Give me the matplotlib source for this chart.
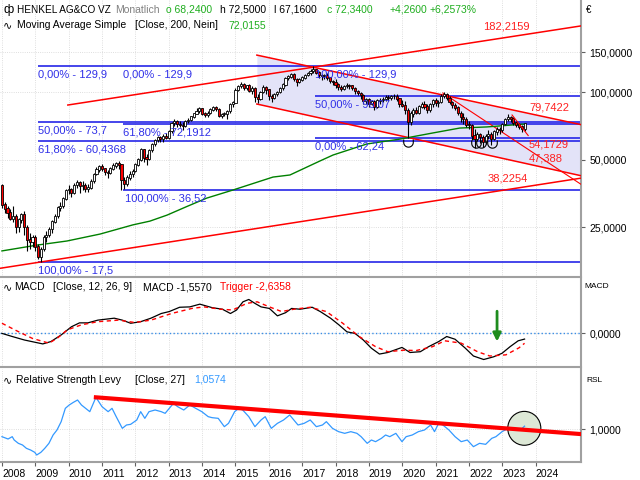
import numpy as np
import matplotlib
matplotlib.use('Agg')
import matplotlib.pyplot as plt
from matplotlib.patches import Ellipse
from matplotlib.path import Path

plt.rcParams['font.family'] = ['Liberation Sans', 'DejaVu Sans']

# monthly candles, Jan 2008 (index 0) .. Sep 2023 (index 188)
opens = [
    38.5, 31.5, 30.2, 29.0, 27.2, 28.0, 25.0, 27.0, 28.5, 25.0, 22.0, 21.5,        # 2008
    22.5, 20.5, 18.5, 20.0, 22.5, 23.0, 24.5, 26.5, 28.0, 30.5, 31.0, 33.5,        # 2009
    36.5, 37.0, 35.5, 38.5, 39.5, 38.0, 38.5, 37.0, 37.5, 40.0, 43.0, 45.0,        # 2010
    46.5, 45.5, 44.0, 43.5, 45.5, 47.0, 48.0, 47.5, 40.5, 39.0, 41.5, 43.0,        # 2011
    44.5, 47.5, 50.0, 55.5, 51.0, 50.5, 55.0, 58.5, 61.0, 62.5, 61.5, 63.5,        # 2012
    62.5, 67.0, 72.5, 74.0, 72.0, 71.0, 70.5, 74.0, 75.0, 77.5, 80.0, 82.0,        # 2013
    84.5, 80.0, 79.0, 80.5, 83.5, 85.5, 84.0, 78.5, 79.5, 80.0, 82.0, 88.0,        # 2014
    89.5, 102.0, 106.0, 108.0, 104.0, 106.5, 101.0, 103.5, 95.0, 93.0, 100.0, 104.5,  # 2015
    102.5, 96.0, 94.5, 97.5, 99.5, 104.0, 108.0, 115.0, 117.0, 120.0, 114.0, 111.0,   # 2016
    113.5, 116.0, 119.0, 121.0, 124.0, 125.5, 122.0, 118.5, 117.5, 118.0, 116.0, 112.0,  # 2017
    110.5, 108.0, 105.0, 103.0, 106.0, 107.0, 106.5, 104.0, 101.0, 99.0, 96.5, 91.0,   # 2018
    93.0, 88.5, 91.0, 86.0, 91.5, 92.0, 93.0, 95.0, 94.5, 95.5, 96.0, 93.5,        # 2019
    88.0, 87.0, 83.0, 73.5, 80.0, 83.0, 81.0, 86.0, 88.0, 86.0, 83.0, 88.0,        # 2020
    92.0, 89.0, 90.0, 96.0, 98.0, 94.0, 90.0, 87.5, 85.0, 80.5, 77.0, 75.5,        # 2021
    71.5, 71.0, 64.0, 62.0, 64.5, 63.0, 60.0, 63.5, 65.0, 62.0, 66.5, 68.0,        # 2022
    67.5, 72.0, 75.5, 77.0, 76.0, 73.0, 71.5, 70.0, 68.24,                         # 2023
]
highs = [
    39.0, 32.5, 31.0, 30.0, 31.0, 28.5, 27.5, 29.0, 29.5, 25.5, 23.5, 23.0,
    23.0, 21.0, 20.5, 23.0, 24.0, 25.0, 27.0, 28.5, 31.0, 32.5, 34.0, 37.0,
    38.5, 37.5, 39.5, 40.5, 40.0, 40.0, 39.5, 39.0, 41.0, 43.5, 46.5, 47.5,
    48.0, 46.0, 45.0, 46.5, 48.5, 49.0, 49.5, 48.0, 42.0, 42.5, 44.5, 45.5,
    48.5, 51.0, 56.5, 56.0, 53.0, 55.5, 59.5, 62.0, 64.0, 64.0, 65.0, 65.5,
    68.0, 73.5, 75.5, 75.0, 74.0, 73.5, 75.0, 76.5, 78.5, 81.0, 84.5, 85.5,
    85.0, 81.5, 82.0, 85.0, 86.5, 86.5, 85.0, 81.0, 81.5, 83.0, 89.0, 91.0,
    104.0, 107.5, 111.0, 110.0, 108.0, 108.5, 106.0, 105.0, 98.0, 101.5, 107.0, 106.0,
    103.0, 97.5, 98.5, 101.0, 105.5, 110.0, 116.5, 119.5, 121.5, 121.0, 115.5, 115.0,
    117.5, 120.5, 123.0, 126.5, 129.9, 127.0, 123.5, 120.0, 120.5, 121.0, 117.0, 113.5,
    114.0, 109.5, 107.5, 107.5, 109.5, 109.0, 108.0, 105.5, 102.5, 100.5, 98.0, 94.5,
    94.0, 92.5, 92.0, 93.0, 94.5, 95.0, 96.5, 97.0, 97.0, 98.0, 97.5, 94.5,
    92.0, 91.0, 84.5, 82.0, 84.5, 86.0, 87.5, 90.5, 91.5, 88.5, 89.5, 93.5,
    94.0, 92.5, 97.5, 99.5, 99.0, 95.5, 91.0, 89.5, 86.5, 82.5, 80.5, 77.5,
    74.0, 72.0, 68.5, 66.5, 66.0, 64.5, 65.0, 67.5, 66.5, 68.0, 69.5, 70.0,
    73.0, 76.5, 79.5, 78.5, 77.0, 74.5, 73.0, 71.5, 72.5,
]
lows = [
    30.5, 28.8, 27.5, 26.8, 26.5, 23.5, 23.8, 26.0, 23.0, 19.5, 20.0, 20.5,
    19.5, 18.0, 17.5, 19.5, 21.5, 22.5, 23.5, 26.0, 27.5, 29.5, 30.5, 33.0,
    35.0, 34.0, 35.0, 37.5, 35.5, 36.5, 36.0, 36.0, 37.0, 39.5, 42.5, 44.0,
    44.5, 42.5, 41.5, 43.0, 45.0, 46.0, 45.5, 36.52, 37.0, 38.0, 40.5, 42.0,
    44.0, 47.0, 49.5, 49.0, 47.5, 50.0, 54.0, 57.5, 60.0, 60.0, 60.0, 61.5,
    62.0, 66.0, 70.5, 70.0, 69.5, 68.0, 70.0, 72.5, 74.0, 76.5, 79.5, 80.5,
    79.0, 77.0, 77.5, 79.5, 82.5, 82.0, 77.0, 76.5, 78.0, 75.5, 81.0, 86.0,
    89.0, 101.0, 104.0, 102.5, 102.0, 99.5, 98.0, 90.0, 89.5, 92.0, 99.0, 98.0,
    92.5, 90.5, 93.5, 95.5, 98.5, 102.0, 106.5, 113.5, 115.0, 112.0, 106.5, 109.5,
    111.5, 114.5, 117.5, 119.5, 122.0, 120.0, 116.0, 113.5, 114.5, 113.0, 109.5, 107.5,
    104.5, 102.5, 101.0, 102.0, 104.0, 103.5, 102.5, 98.0, 96.5, 93.0, 88.5, 88.0,
    86.0, 87.5, 83.5, 85.0, 88.5, 90.0, 91.0, 91.5, 92.5, 93.5, 91.0, 86.0,
    85.5, 80.0, 62.24, 71.5, 77.0, 79.5, 80.0, 84.5, 84.0, 80.5, 81.5, 86.0,
    86.5, 86.0, 89.0, 94.5, 92.5, 88.0, 85.0, 83.0, 79.0, 73.5, 72.0, 70.0,
    68.5, 61.0, 56.5, 60.5, 59.0, 57.0, 58.5, 61.5, 58.0, 61.0, 64.5, 65.0,
    66.5, 71.0, 74.0, 73.5, 71.5, 69.5, 68.5, 66.5, 67.16,
]
closes = [
    31.5, 30.2, 29.0, 27.2, 28.0, 25.0, 27.0, 28.5, 25.0, 22.0, 21.5, 22.5,
    20.5, 18.5, 20.0, 22.5, 23.0, 24.5, 26.5, 28.0, 30.5, 31.0, 33.5, 36.5,
    37.0, 35.5, 38.5, 39.5, 38.0, 38.5, 37.0, 37.5, 40.0, 43.0, 45.0, 46.5,
    45.5, 44.0, 43.5, 45.5, 47.0, 48.0, 47.5, 40.5, 39.0, 41.5, 43.0, 44.5,
    47.5, 50.0, 55.5, 51.0, 50.5, 55.0, 58.5, 61.0, 62.5, 61.5, 63.5, 62.5,
    67.0, 72.5, 74.0, 72.0, 71.0, 70.5, 74.0, 75.0, 77.5, 80.0, 82.0, 84.5,
    80.0, 79.0, 80.5, 83.5, 85.5, 84.0, 78.5, 79.5, 80.0, 82.0, 88.0, 89.5,
    102.0, 106.0, 108.0, 104.0, 106.5, 101.0, 103.5, 95.0, 93.0, 100.0, 104.5, 102.5,
    96.0, 94.5, 97.5, 99.5, 104.0, 108.0, 115.0, 117.0, 120.0, 114.0, 111.0, 113.5,
    116.0, 119.0, 121.0, 124.0, 125.5, 122.0, 118.5, 117.5, 118.0, 116.0, 112.0, 110.5,
    108.0, 105.0, 103.0, 106.0, 107.0, 106.5, 104.0, 101.0, 99.0, 96.5, 91.0, 93.0,
    88.5, 91.0, 86.0, 91.5, 92.0, 93.0, 95.0, 94.5, 95.5, 96.0, 93.5, 88.0,
    87.0, 83.0, 73.5, 80.0, 83.0, 81.0, 86.0, 88.0, 86.0, 83.0, 88.0, 92.0,
    89.0, 90.0, 96.0, 98.0, 94.0, 90.0, 87.5, 85.0, 80.5, 77.0, 75.5, 71.5,
    71.0, 64.0, 62.0, 64.5, 63.0, 60.0, 63.5, 65.0, 62.0, 66.5, 68.0, 67.5,
    72.0, 75.5, 77.0, 76.0, 73.0, 71.5, 70.0, 68.24, 72.34,
]

years = list(range(2008, 2025))

# moving average (200)
ma_idx = [0, 12.6, 23.4, 35.3, 47.1, 53.2, 59.4, 66.5, 73.7, 83.1, 97.5, 103.6,
          114.4, 119.1, 131.3, 143.2, 155, 164.7, 174.5, 188]
ma_val = [19.6, 20.8, 21.7, 23.3, 25.6, 26.6, 28.3, 30.9, 33.7, 36.6, 41.8, 42.7,
          49.3, 52.4, 58.7, 61.7, 65.7, 69.1, 69.9, 72.0155]

# fibonacci levels: (start index, price) and labels
fib_lines = [(13.0, 129.9), (13.0, 73.7), (13.0, 60.4368), (13.0, 17.5),
             (43.5, 72.1912), (43.5, 36.52), (112.6, 96.07), (112.6, 62.24)]
fib_labels = [(13.0, 129.9, '0,00% - 129,9'), (43.5, 129.9, '0,00% - 129,9'),
              (112.6, 129.9, '100,00% - 129,9'), (13.0, 73.7, '50,00% - 73,7'),
              (43.5, 72.1912, '61,80% - 72,1912'), (13.0, 60.4368, '61,80% - 60,4368'),
              (44.2, 36.52, '100,00% - 36,52'), (13.0, 17.5, '100,00% - 17,5'),
              (112.6, 96.07, '50,00% - 96,07'), (112.6, 62.24, '0,00% - 62,24')]

# trend lines, two anchors each (index, price)
up_long = ((23.7, 87.5), (190.6, 182.2159))
low_long = ((14.0, 17.5), (190.6, 38.2254))
down_top = ((91.7, 146.0), (190.6, 79.7422))
down_bot = ((91.7, 88.4), (190.6, 47.388))
steep = ((158.6, 99.0), (190.6, 54.1729))
short_line = ((183.5, 79.0), (189.3, 64.0))
red_labels = [(173.0, 194.8, '182,2159'), (189.6, 85.7, '79,7422'),
              (189.6, 58.1, '54,1729'), (189.6, 50.8, '47,388'),
              (174.8, 41.4, '38,2254')]
bottoms_idx = [145.9, 170.5, 172.3, 176.3]
bottoms_val = [61.7, 61.0, 61.0, 61.0]

# MACD
macd_idx = [0, 3.7, 8.1, 14.7, 17.6, 21.3, 25, 27.9, 30.9, 34.5, 40.4, 43.3, 46.3, 49.9,
            53.6, 57.3, 60.2, 63.9, 67.6, 71.2, 75.6, 79.3, 82.2, 84.4, 86.7, 88.8, 91,
            93.2, 96.2, 99.1, 102, 104.2, 107.2, 111.6, 114.5, 118.2, 121.2, 124.1, 127,
            130, 132.9, 135.8, 138.8, 143.9, 146.8, 150.5, 153.5, 157.1, 160, 163, 166.7,
            169.6, 173.3, 176.9, 179.9, 182.8, 185.7, 188]
macd_val = [-0.1, -0.9, -1.8, -2.8, -2.2, -0.5, 1.6, 2.6, 2.6, 3.3, 3.8, 3.3, 2.5, 2.9,
            3.8, 5.0, 5.5, 6.6, 6.7, 7.4, 6.5, 6.1, 5.0, 5.9, 8.0, 8.6, 7.6,
            6.7, 6.3, 4.4, 5.2, 6.3, 6.1, 6.6, 5.5, 3.8, 2.1, 0.3, -0.1,
            -1.8, -3.9, -5.4, -5.0, -3.7, -5.0, -4.8, -3.5, -2.2, -0.9, -1.6, -3.9,
            -5.9, -6.8, -6.1, -5.2, -3.5, -2.0, -1.557]
trig_idx = [0, 5.2, 11, 16.9, 19.8, 23.5, 28.6, 34.5, 41.9, 47.7, 53.6, 61, 68.3, 72.7,
            78.6, 83, 88.1, 91.8, 96.2, 100.6, 105, 110.9, 116.7, 122.6, 128.5, 134.4,
            138.8, 144.6, 149, 154.9, 159.3, 165.2, 171.1, 175.5, 181.3, 186, 188]
trig_val = [2.5, 0.6, -1.4, -2.6, -1.4, 0.8, 2.1, 2.9, 3.3, 2.7, 3.3, 5.0, 6.3, 6.7,
            6.1, 5.9, 7.6, 8.0, 6.7, 5.5, 6.1, 6.6, 5.5, 2.5, -0.9, -3.5,
            -4.8, -4.4, -4.5, -3.5, -2.0, -2.6, -4.8, -5.9, -5.6, -3.8, -2.636]

# Relative Strength Levy
rsl_idx = [0, 2.2, 3.7, 4.4, 5.9, 7.4, 8.8, 10.3, 11.8, 12.5, 14.0, 15.4, 16.9, 18.4,
           19.8, 21.3, 22.8, 24.2, 25.7, 27.2, 28.6, 30.1, 31.6, 33.8, 36.0, 38.2, 39.6,
           41.1, 43.3, 44.8, 46.3, 48.5, 49.9, 51.4, 52.9, 55.1, 57.3, 58.7, 60.2, 61.7,
           63.2, 65.4, 67.6, 69.7, 71.9, 74.2, 75.6, 77.8, 80.0, 81.5, 83.7, 85.2, 86.6,
           88.8, 91.0, 93.2, 94.7, 96.9, 99.1, 101.3, 103.5, 105.0, 106.5, 108.7, 110.9,
           113.1, 115.3, 116.7, 118.9, 121.1, 123.3, 125.5, 127.7, 129.2, 131.4, 132.9,
           134.4, 136.5, 138.0, 139.5, 141.7, 143.9, 145.4, 147.6, 149.8, 152.0, 154.2,
           155.6, 157.1, 158.6, 160.8, 163.0, 165.2, 167.4, 169.6, 171.8, 174.0, 176.2,
           177.7, 179.9, 182.1, 184.3, 186.5, 188]
rsl_val = [0.868, 0.826, 0.868, 0.808, 0.748, 0.718, 0.658, 0.628, 0.586, 0.538, 0.586,
           0.658, 0.748, 0.898, 0.988, 1.138, 1.378, 1.438, 1.486, 1.528, 1.438, 1.378,
           1.318, 1.576, 1.408, 1.318, 1.378, 1.228, 1.018, 1.078, 1.09, 1.168, 1.318,
           1.198, 1.318, 1.348, 1.318, 1.288, 1.378, 1.468, 1.408, 1.348, 1.438, 1.378,
           1.318, 1.228, 1.21, 1.198, 1.048, 1.108, 1.318, 1.378, 1.348, 1.228, 1.048,
           1.168, 1.228, 1.018, 1.108, 1.168, 1.258, 1.168, 1.078, 1.108, 1.168, 1.048,
           1.078, 1.138, 1.018, 0.958, 0.928, 0.958, 0.928, 0.868, 0.748, 0.808, 0.778,
           0.838, 0.898, 0.868, 0.928, 0.778, 0.868, 0.898, 0.958, 0.988, 1.078, 0.958,
           1.108, 1.078, 0.988, 0.868, 0.778, 0.808, 0.688, 0.748, 0.73, 0.838, 0.868,
           0.958, 1.018, 1.018, 0.988, 1.0574]
rsl_trend = ((33.8, 1.576), (207.9, 0.916))

X0, X1 = -0.7, 208.3
BLUE = '#1414e6'
FIBTXT = '#3030e8'
GREEN = '#1fae1f'
GRID = '#d4d4d4'
SPINE = '#a0a0a0'


def extend(line, x):
    (xa, ya), (xb, yb) = line
    k = np.log(yb / ya) / (xb - xa)
    return ya * np.exp(k * (x - xa))


def style(ax):
    for s in ax.spines.values():
        s.set_color(SPINE)
        s.set_linewidth(1.5)
    ax.spines['left'].set_visible(False)
    ax.spines['top'].set_visible(False)
    ax.yaxis.tick_right()
    ax.set_xlim(X0, X1)
    ax.set_xticks([12 * (y - 2008) for y in years])
    ax.tick_params(axis='y', direction='out', length=3, pad=3, colors='#606060',
                   labelcolor='black', labelsize=7.5)
    ax.tick_params(axis='x', length=0, labelbottom=False)
    ax.grid(True, color=GRID, ls=':', lw=0.6)
    ax.set_axisbelow(True)


fig = plt.figure(figsize=(6.4, 4.8), dpi=100)
ax = fig.add_axes([0, 1 - 277 / 480, 581 / 640, 277 / 480])
ax_m = fig.add_axes([0, 1 - 367 / 480, 581 / 640, 88 / 480])
ax_r = fig.add_axes([0, 1 - 462 / 480, 581 / 640, 93 / 480])

# ---- price panel
ax.set_yscale('log')
style(ax)
ax.set_ylim(15.0, 256.9)
ax.yaxis.set_minor_locator(matplotlib.ticker.NullLocator())
ax.set_yticks([25, 50, 100, 150])
ax.set_yticklabels(['25,0000', '50,0000', '100,0000', '150,0000'])

# shaded down channel
xs = np.array([down_top[0][0], X1])
ax.fill_between(xs, extend(down_top, xs), extend(down_bot, xs), color='#e3e3f8', lw=0, zorder=1)

for x0, lvl in fib_lines:
    ax.hlines(lvl, x0, X1, color=BLUE, lw=1.1, zorder=2)
for x0, lvl, txt in fib_labels:
    ax.annotate(txt, xy=(x0, lvl), xytext=(0, -2.5), textcoords='offset points',
                ha='left', va='top', fontsize=8, color=FIBTXT, zorder=6)

for line, start in [(up_long, up_long[0][0]), (low_long, X0), (down_top, down_top[0][0]),
                    (down_bot, down_bot[0][0])]:
    xx = np.array([start, X1])
    ax.plot(xx, extend(line, xx), color='red', lw=1.1, zorder=3)
xx = np.array([steep[0][0], X1])
ax.plot(xx, extend(steep, xx), color='red', lw=0.8, zorder=3)
ax.plot([short_line[0][0], short_line[1][0]], [short_line[0][1], short_line[1][1]],
        color='red', lw=0.8, zorder=5)
for x0, lvl, txt in red_labels:
    ax.text(x0, lvl, txt, color='#ff2020', fontsize=8, ha='left', va='center', zorder=6)

ax.plot(ma_idx, ma_val, color='#008000', lw=1.0, zorder=3)

# candles
o = np.array(opens)
c = np.array(closes)
idx = np.arange(len(c))
ax.vlines(idx, lows, highs, color='black', lw=0.8, zorder=4)
body_lo = np.minimum(o, c)
body_hi = np.maximum(o, c) * 1.004
ax.bar(idx, body_hi - body_lo, bottom=body_lo, width=0.75,
       color=np.where(c >= o, 'white', 'red'), edgecolor='black', lw=0.6, zorder=4)

# small "U" marks under the bottoms
t = np.linspace(np.pi, 2 * np.pi, 20)
u_verts = [(-1, 0)] + list(zip(np.cos(t), -0.6 + np.sin(t))) + [(1, 0)]
u_mark = Path(u_verts)
ax.plot(bottoms_idx, bottoms_val, ls='none', marker=u_mark, ms=11, mfc='none',
        mec='black', mew=0.8, zorder=5)

# ---- MACD panel
style(ax_m)
ax_m.set_ylim(-8.72, 13.85)
ax_m.set_yticks([0])
ax_m.set_yticklabels(['0,0000'])
ax_m.axhline(0, color='#3a8ee6', ls=':', lw=1.0)
ax_m.plot(macd_idx, macd_val, color='black', lw=0.9)
ax_m.plot(trig_idx, trig_val, color='red', lw=1.0, ls=(0, (3, 2.5)))
ax_m.annotate('', xy=(178.1, -2.9), xytext=(178.1, 6.3),
              arrowprops=dict(arrowstyle='-|>', color='#1e8c1e', lw=2, mutation_scale=12))

# ---- RSL panel
style(ax_r)
ax_r.set_ylim(0.412, 2.086)
ax_r.set_yticks([1.0])
ax_r.set_yticklabels(['1,0000'])
ax_r.add_patch(Ellipse((187.9, 1.018), 11.9, 0.61, facecolor='#dde8d6',
                       edgecolor='black', lw=0.8, zorder=1))
ax_r.plot(rsl_idx, rsl_val, color='#3399ff', lw=0.9, zorder=2)
ax_r.plot([rsl_trend[0][0], rsl_trend[1][0]], [rsl_trend[0][1], rsl_trend[1][1]],
          color='red', lw=3, zorder=3)
ax_r.tick_params(axis='x', length=3, pad=2, colors='#606060', labelcolor='black',
                 labelsize=7.5, labelbottom=True)
ax_r.set_xticklabels([str(y) for y in years])
for lab in ax_r.get_xticklabels():
    lab.set_ha('left')


# ---- texts (pixel positions of the original)
def ftext(x, y, s, color='black', size=7.5, **kw):
    fig.text(x / 640, 1 - y / 480, s, color=color, fontsize=size, va='center', ha='left', **kw)


ftext(4, 10, 'ф', size=9)
ftext(17, 10, 'HENKEL AG&CO VZ', size=7.2)
ftext(115, 10, 'Monatlich', color='#808080')
ftext(166, 10, 'o 68,2400', color=GREEN)
ftext(220, 10, 'h 72,5000')
ftext(274, 10, 'l 67,1600')
ftext(327, 10, 'c 72,3400', color=GREEN)
ftext(390, 10, '+4,2600', color=GREEN)
ftext(430, 10, '+6,2573%', color=GREEN)
ftext(3, 25, '∿', size=8)
ftext(17, 25, 'Moving Average Simple')
ftext(135, 25, '[Close, 200, Nein]')
ftext(228, 25, '72,0155', color=GREEN)
ftext(586, 10, '€', size=7)

ftext(3, 287, '∿', size=8)
ftext(14, 287, 'MACD')
ftext(53, 287, '[Close, 12, 26, 9]')
ftext(143, 287, 'MACD -1,5570')
ftext(220, 287, 'Trigger -2,6358', color='red')
ftext(584, 287, 'MACD', size=6)

ftext(3, 380, '∿', size=8)
ftext(16, 380, 'Relative Strength Levy')
ftext(135, 380, '[Close, 27]')
ftext(194, 380, '1,0574', color='#3399ff')
ftext(586, 380, 'RSL', size=6)

fig.savefig('out.png', dpi=100)
